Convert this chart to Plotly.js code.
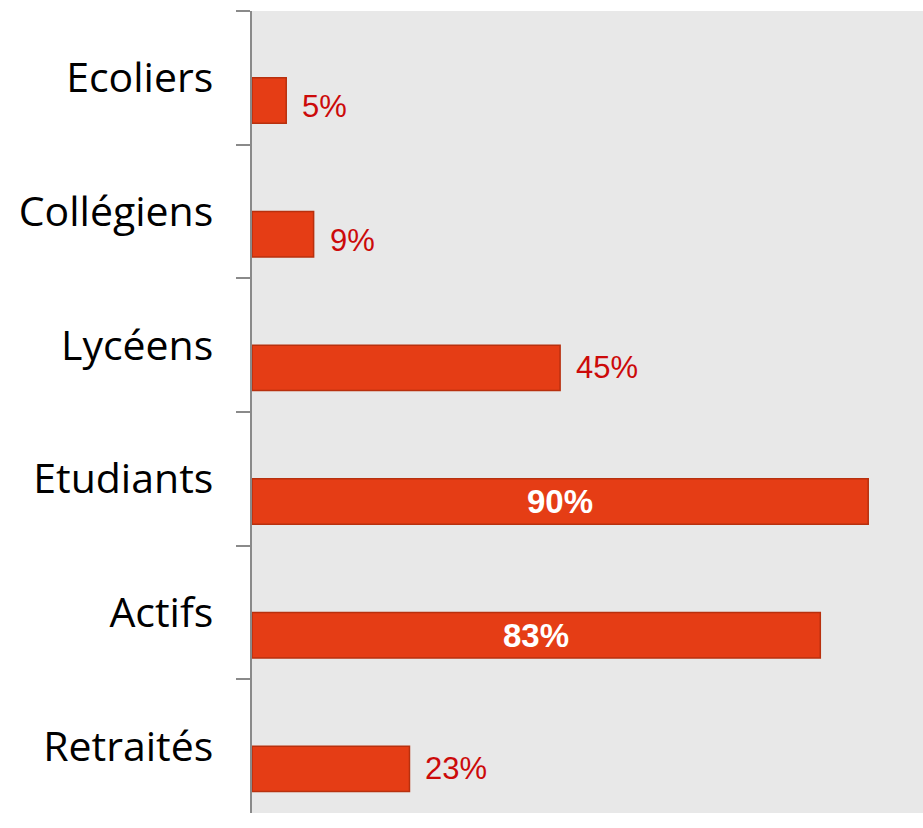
<!DOCTYPE html>
<html>
<head>
<meta charset="utf-8">
<script src="https://cdn.plot.ly/plotly-3.0.1.min.js"></script>
<style>html,body{margin:0;padding:0;background:#fff;}#chart{width:923px;height:828px;}</style>
</head>
<body>
<div id="chart"></div>
<script>
const categories = ["Ecoliers", "Collégiens", "Lycéens", "Etudiants", "Actifs", "Retraités"];
const values = [5, 9, 45, 90, 83, 23];
const labels = ["5%", "9%", "45%", "90%", "83%", "23%"];

const barWidth = 0.34;
const annotations = values.map((v, i) => {
  const inside = v > 60;
  return {
    x: inside ? v / 2 : v,
    y: i + barWidth / 2,
    xref: 'x', yref: 'y',
    text: inside ? '<b>' + labels[i] + '</b>' : labels[i],
    showarrow: false,
    xanchor: inside ? 'center' : 'left',
    yanchor: 'middle',
    xshift: inside ? 0 : 14,
    yshift: i < 2 ? -6 : 0,
    font: inside
      ? {family: 'Liberation Sans, Arial, sans-serif', size: 33, color: '#ffffff'}
      : {family: 'Liberation Sans, Arial, sans-serif', size: 31, color: '#cc0a0a'}
  };
});

const trace = {
  type: 'bar',
  orientation: 'h',
  x: values,
  y: categories,
  width: barWidth,
  offset: 0,
  marker: {color: '#e53d15', line: {color: '#b8300e', width: 1.5}},
  hoverinfo: 'none'
};

const layout = {
  width: 923, height: 828,
  margin: {l: 252, r: 0, t: 11, b: 15},
  paper_bgcolor: '#ffffff',
  plot_bgcolor: '#e8e8e8',
  showlegend: false,
  xaxis: {range: [0, 98], showgrid: false, zeroline: false, showticklabels: false, ticks: '', showline: false, fixedrange: true},
  yaxis: {
    type: 'category',
    autorange: 'reversed',
    showgrid: false, zeroline: false,
    showline: true, linecolor: '#8a8a8a', linewidth: 2.5,
    ticks: 'outside', tickson: 'boundaries', ticklen: 14, tickwidth: 2, tickcolor: '#8a8a8a',
    ticklabelstandoff: 28,
    tickfont: {family: 'Open Sans, sans-serif', size: 41, color: '#000000'}
  },
  annotations: annotations
};

Plotly.newPlot('chart', [trace], layout, {displayModeBar: false, staticPlot: true});
</script>
</body>
</html>
